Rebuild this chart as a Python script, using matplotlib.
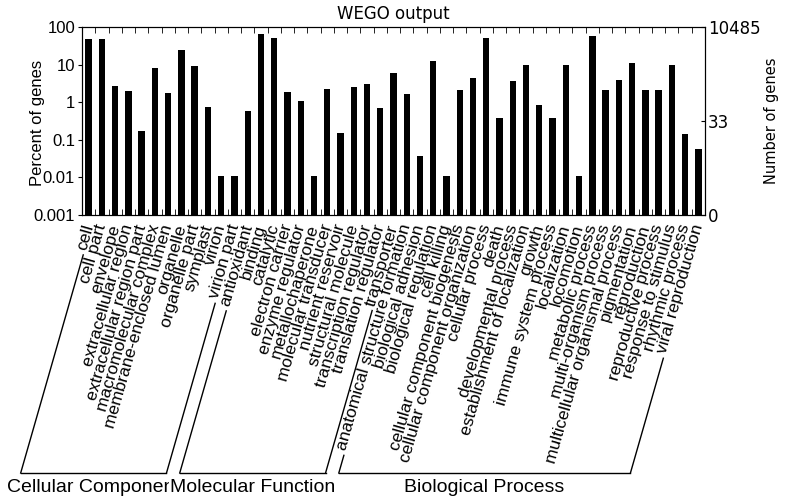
import numpy as np
import matplotlib
matplotlib.use('Agg')
import matplotlib.pyplot as plt
from matplotlib.lines import Line2D

plt.rcParams['font.family'] = ['Liberation Sans', 'DejaVu Sans']

# GO categories, grouped
cc_terms = ['cell', 'cell part', 'envelope', 'extracellular region',
            'extracellular region part', 'macromolecular complex',
            'membrane-enclosed lumen', 'organelle', 'organelle part',
            'symplast', 'virion', 'virion part']
mf_terms = ['antioxidant', 'binding', 'catalytic', 'electron carrier',
            'enzyme regulator', 'metallochaperone', 'molecular transducer',
            'nutrient reservoir', 'structural molecule',
            'transcription regulator', 'translation regulator', 'transporter']
bp_terms = ['anatomical structure formation', 'biological adhesion',
            'biological regulation', 'cell killing',
            'cellular component biogenesis', 'cellular component organization',
            'cellular process', 'death', 'developmental process',
            'establishment of localization', 'growth', 'immune system process',
            'localization', 'locomotion', 'metabolic process',
            'multi-organism process', 'multicellular organismal process',
            'pigmentation', 'reproduction', 'reproductive process',
            'response to stimulus', 'rhythmic process', 'viral reproduction']

# percent of genes
cc_pct = [48, 48, 2.7, 2.0, 0.17, 8.1, 1.75, 24.5, 9.2, 0.75, 0.01, 0.01]
mf_pct = [0.6, 64, 51, 1.9, 1.1, 0.01, 2.3, 0.15, 2.6, 3.0, 0.7, 5.8]
bp_pct = [1.65, 0.037, 12.5, 0.01, 2.1, 4.4, 51, 0.38, 3.6, 10, 0.85, 0.38,
          10, 0.01, 57, 2.1, 3.8, 11, 2.1, 2.1, 10, 0.14, 0.055]

groups = ['Cellular Component', 'Molecular Function', 'Biological Process']
total_genes = 10485
right_ticks = [0, 33, 10485]

terms = cc_terms + mf_terms + bp_terms
pct = cc_pct + mf_pct + bp_pct
sizes = [len(cc_terms), len(mf_terms), len(bp_terms)]
x = np.arange(len(terms))

W, H = 790, 504
fig = plt.figure(figsize=(7.9, 5.04), dpi=100)
ax = fig.add_axes([82/W, 1-215/H, 623/W, 188/H])

ax.bar(x, pct, width=0.48, color='black', bottom=0.001)
ax.set_yscale('log')
ax.set_ylim(0.001, 100)
ax.set_xlim(-0.5, len(terms) - 0.5)
ax.set_yticks([100, 10, 1, 0.1, 0.01, 0.001])
ax.set_yticklabels(['100', '10', '1', '0.1', '0.01', '0.001'], fontsize=12)
ax.yaxis.set_minor_locator(plt.NullLocator())
ax.tick_params(axis='y', direction='out', length=3, pad=2)
ax.set_ylabel('Percent of genes', fontsize=12)
ax.yaxis.set_label_coords((45 - 82) / 623, 0.49)

ax.set_xticks(x)
ax.set_xticklabels(terms, rotation=74, ha='right', va='center',
                   rotation_mode='anchor', fontsize=12.5)
ax.tick_params(axis='x', which='major', length=0, pad=7)
ax.set_xticks(x[:-1] + 0.5, minor=True)
ax.tick_params(axis='x', which='minor', direction='in', length=4,
               top=True, bottom=True)

ax.set_title('WEGO output', fontsize=12, family='DejaVu Sans', pad=6)

# right axis: number of genes
ax2 = ax.twinx()
ax2.set_yscale('log')
ax2.set_ylim(0.001, 100)
ax2.yaxis.set_minor_locator(plt.NullLocator())
pos = [0.001] + [v / total_genes * 100 for v in right_ticks[1:]]
ax2.set_yticks(pos)
ax2.set_yticklabels([str(v) for v in right_ticks], fontsize=12,
                    family='DejaVu Sans')
ax2.tick_params(axis='y', direction='in', length=3, pad=2)
ax2.set_ylabel('Number of genes', fontsize=10.5, family='DejaVu Sans')
ax2.yaxis.set_label_coords((764 - 82) / 623, 0.5)

# group brackets drawn along the label direction
fig.canvas.draw()
renderer = fig.canvas.get_renderer()
labels = ax.get_xticklabels()
ang = np.deg2rad(74)
ybot = H - 473
starts = np.cumsum([0] + sizes[:-1])
for g, (s, n) in enumerate(zip(starts, sizes)):
    ends = []
    for i in (s, s + n - 1):
        bb = labels[i].get_window_extent(renderer)
        px, py = bb.x0 + 9, bb.y0 - 3
        bx = px - (py - ybot) / np.tan(ang)
        ends.append(bx)
        fig.add_artist(Line2D([px/W, bx/W], [py/H, ybot/H],
                              color='black', lw=1))
    fig.add_artist(Line2D([ends[0]/W, ends[1]/W], [ybot/H, ybot/H],
                          color='black', lw=1))
    kw = {}
    if g == 1:
        kw['bbox'] = dict(facecolor='white', edgecolor='none', pad=0.5)
    fig.text((ends[0] + ends[1]) / 2 / W, (H - 488) / H, groups[g],
             ha='center', va='center', fontsize=14, **kw)

fig.savefig('out.png', dpi=100)
